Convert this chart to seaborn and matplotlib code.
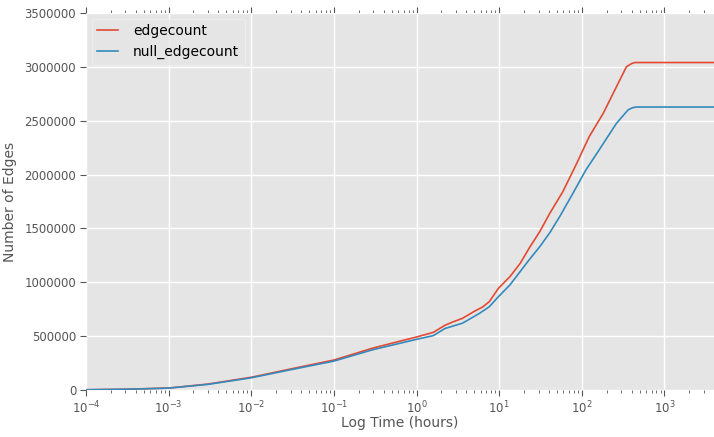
import matplotlib
matplotlib.use("Agg")
import matplotlib.pyplot as plt
from matplotlib.ticker import ScalarFormatter, MultipleLocator
import seaborn as sns
import pandas as pd

# Edge counts over time (hours)
hours_edge = [1e-4, 3e-4, 1e-3, 3e-3, 1e-2, 3e-2, 0.1, 0.3, 1.0, 1.6, 2.2, 2.8,
              3.6, 5.0, 6.3, 7.6, 9.8, 13.5, 18, 23, 31, 41, 59, 85, 123, 182,
              263, 347, 400, 437, 4000]
edgecount = [2000, 7000, 18000, 55000, 118000, 195000, 278000, 390000, 492000,
             535000, 600000, 634000, 665000, 730000, 770000, 820000, 944000,
             1052000, 1176000, 1315000, 1470000, 1640000, 1841000, 2089000,
             2352000, 2569000, 2816000, 3001000, 3030000, 3040000, 3040000]

hours_null = [1e-4, 3e-4, 1e-3, 3e-3, 1e-2, 3e-2, 0.1, 0.3, 1.0, 1.6, 2.2, 2.8,
              3.6, 5.8, 7.6, 9.8, 13.5, 23, 31, 41, 54, 78, 112, 162, 263, 363,
              410, 457, 4000]
null_edgecount = [2000, 6500, 17000, 52000, 113000, 188000, 268000, 375000,
                  470000, 505000, 570000, 595000, 620000, 712000, 773000,
                  866000, 975000, 1207000, 1330000, 1460000, 1609000, 1825000,
                  2042000, 2228000, 2476000, 2600000, 2620000, 2627000, 2627000]

plt.style.use("ggplot")

fig = plt.figure(figsize=(7.14, 4.37), dpi=100)
ax = fig.add_axes([0.1204, 0.1076, 0.8796, 0.8627])

df_edge = pd.DataFrame({"hours": hours_edge, "edges": edgecount})
df_null = pd.DataFrame({"hours": hours_null, "edges": null_edgecount})

sns.lineplot(data=df_edge, x="hours", y="edges", ax=ax, color="#E24A33",
             lw=1.2, label="edgecount", estimator=None)
sns.lineplot(data=df_null, x="hours", y="edges", ax=ax, color="#348ABD",
             lw=1.2, label="null_edgecount", estimator=None)

ax.set_xscale("log")
ax.set_xlim(1e-4, 10 ** 3.6)
ax.set_ylim(0, 3500000)
ax.yaxis.set_major_locator(MultipleLocator(500000))
fmt = ScalarFormatter(useOffset=False)
fmt.set_scientific(False)
ax.yaxis.set_major_formatter(fmt)

ax.set_xlabel("Log Time (hours)", fontsize=10, color="#555555")
ax.set_ylabel("Number of Edges", fontsize=10, color="#555555")
ax.xaxis.set_label_coords(0.5, -0.07)
ax.yaxis.set_label_coords(-0.11, 0.5)

ax.tick_params(axis="both", which="both", direction="out", colors="#555555",
               labelsize=8.5, top=True, right=True)
ax.tick_params(axis="both", which="major", length=4, pad=3)
ax.tick_params(axis="both", which="minor", length=2)
ax.grid(True, which="major", color="white", lw=1)
ax.grid(False, which="minor")
for s in ax.spines.values():
    s.set_visible(False)

leg = ax.legend(loc="upper left", fontsize=10, handlelength=1.5,
                handletextpad=1.1, borderaxespad=0.4, frameon=True,
                facecolor="#E5E5E5", edgecolor="#EEEEEE")
leg.get_frame().set_linewidth(0.8)

fig.savefig("out.png", dpi=100)
